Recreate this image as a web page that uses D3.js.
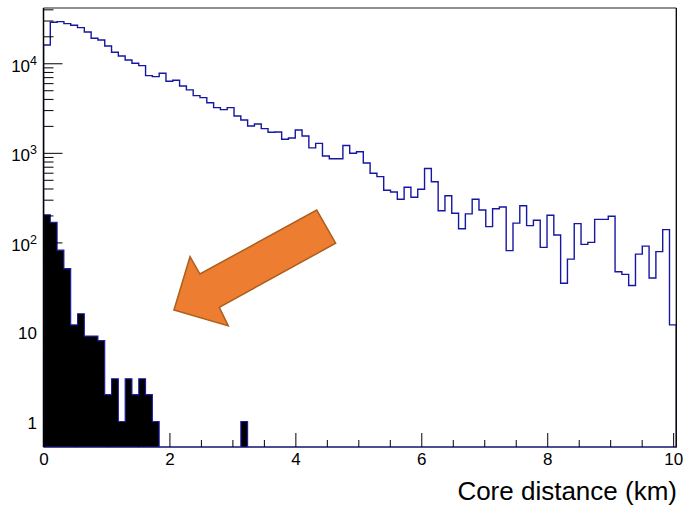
<!DOCTYPE html>
<html>
<head>
<meta charset="utf-8">
<script src="https://cdn.jsdelivr.net/npm/d3@7"></script>
<style>
  html, body { margin: 0; padding: 0; background: #fff; }
  svg { display: block; font-family: "Liberation Sans", Arial, Helvetica, sans-serif; }
</style>
</head>
<body>
<svg id="chart" width="686" height="505"></svg>
<script>
// Histogram binning: equal-width bins over [histMin, histMax]
const histMin = 0;
const histMax = 10.05;

// All reconstructed shower cores (counts per bin)
const allCores = [
  16010, 28700, 29150, 27700, 26580, 25000, 22380, 19030, 18200, 15600,
  13270, 12070, 10890, 10000, 9400, 7270, 7090, 7740, 6300, 6460,
  5580, 5040, 4350, 4130, 3630, 3200, 3040, 3200, 2580, 2329,
  1995, 2101, 1862, 1698, 1711, 1418, 1467, 1801, 1544, 1135,
  1274, 923, 859, 859, 1209, 990, 1028, 771, 592, 542,
  382, 366, 303, 413, 319, 392, 669, 476, 226, 332,
  212, 142, 208, 303, 230, 150, 238, 249, 81, 164,
  257, 154, 177, 88, 201, 121, 35, 65, 162, 95,
  100, 181, 181, 196, 47, 44, 33, 74, 91, 40,
  79, 139, 12
];

// Selected events (counts per bin)
const selected = [
  203, 168, 82, 51, 12, 16, 9, 9, 8, 2,
  3, 1, 3, 2, 3, 2, 1, 0, 0, 0,
  0, 0, 0, 0, 0, 0, 0, 0, 0, 1,
  0, 0, 0, 0, 0, 0, 0, 0, 0, 0,
  0, 0, 0, 0, 0, 0, 0, 0, 0, 0,
  0, 0, 0, 0, 0, 0, 0, 0, 0, 0,
  0, 0, 0, 0, 0, 0, 0, 0, 0, 0,
  0, 0, 0, 0, 0, 0, 0, 0, 0, 0,
  0, 0, 0, 0, 0, 0, 0, 0, 0, 0,
  0, 0, 0
];

// Axis ticks and labels
const xMajorTicks = [0, 2, 4, 6, 8, 10];
const xTickLabels = ["0", "2", "4", "6", "8", "10"];
const yMajorTicks = [1, 10, 100, 1000, 10000];
const yTickLabels = [["1", ""], ["10", ""], ["10", "2"], ["10", "3"], ["10", "4"]];
const xTitle = "Core distance (km)";

// Arrow annotation outline, in (km, count) coordinates
const arrowOutline = [
  [2.072, 17.6], [2.327, 69.3], [2.485, 44.4], [4.339, 230],
  [4.640, 97.9], [2.792, 18.9], [2.935, 11.7]
];

const svg = d3.select("#chart");
const plot = { left: 43.5, right: 676.3, top: 8, bottom: 447 };

const x = d3.scaleLinear().domain([histMin, histMax]).range([plot.left, plot.right]);
const y = d3.scaleLog().domain([0.52, 41400]).range([plot.bottom, plot.top]);

const nBins = allCores.length;
const binW = (histMax - histMin) / nBins;
const edges = d3.range(nBins + 1).map(i => histMin + i * binW);

svg.append("clipPath").attr("id", "plotClip")
  .append("rect")
  .attr("x", plot.left).attr("y", plot.top)
  .attr("width", plot.right - plot.left).attr("height", plot.bottom - plot.top + 1);

// Step outline of a histogram; empty bins sit on the bottom of the frame
function stepPoints(values) {
  const pts = [[edges[0], 0]];
  values.forEach((v, i) => pts.push([edges[i], v]));
  pts.push([edges[nBins], 0]);
  return pts;
}
const stepLine = d3.line()
  .x(d => x(d[0]))
  .y(d => d[1] > 0 ? y(d[1]) : plot.bottom)
  .curve(d3.curveStepAfter);

// Bottom axis line (underneath the histogram outlines)
svg.append("line").attr("x1", plot.left).attr("x2", plot.right)
  .attr("y1", plot.bottom).attr("y2", plot.bottom)
  .attr("stroke", "#000").attr("stroke-width", 1);

const histG = svg.append("g").attr("clip-path", "url(#plotClip)");

// Selected events: filled black with blue outline
histG.append("path")
  .attr("d", stepLine(stepPoints(selected)) + "Z")
  .attr("fill", "#000")
  .attr("stroke", "#1c1ca8")
  .attr("stroke-width", 1.1);

// All cores: open blue outline
histG.append("path")
  .attr("d", stepLine(stepPoints(allCores)))
  .attr("fill", "none")
  .attr("stroke", "#1616a2")
  .attr("stroke-width", 1.4);

// Top and right frame lines
svg.append("line").attr("x1", plot.left).attr("x2", plot.right)
  .attr("y1", plot.top).attr("y2", plot.top)
  .attr("stroke", "#6a6a6a").attr("stroke-width", 1.3);
svg.append("line").attr("x1", plot.right).attr("x2", plot.right)
  .attr("y1", plot.top).attr("y2", plot.bottom + 0.5)
  .attr("stroke", "#000").attr("stroke-width", 1.3);

// X axis (ticks point into the frame)
const xMinorTicks = d3.range(0, 10.01, 0.5).filter(t => !xMajorTicks.includes(t));
svg.append("g")
  .attr("transform", `translate(0,${plot.bottom})`)
  .call(d3.axisBottom(x).tickValues(xMinorTicks).tickSize(-7).tickFormat(""))
  .call(g => g.select(".domain").remove());
svg.append("g")
  .attr("transform", `translate(0,${plot.bottom})`)
  .call(d3.axisBottom(x).tickValues(xMajorTicks).tickSize(-14).tickPadding(6)
    .tickFormat((d, i) => xTickLabels[i]))
  .call(g => g.select(".domain").remove())
  .call(g => g.selectAll("text").attr("font-size", 17).attr("fill", "#000")
    .style("font-family", "'Liberation Sans', Arial, sans-serif"));

// Y axis: log decades with minor ticks at 2..9
const yMinorTicks = [];
[0.1, 1, 10, 100, 1000, 10000].forEach(dec => {
  for (let k = 2; k <= 9; k++) {
    const t = dec * k;
    if (t >= 0.52 && t <= 41400) yMinorTicks.push(t);
  }
});
svg.append("g")
  .attr("transform", `translate(${plot.left},0)`)
  .call(d3.axisLeft(y).tickValues(yMinorTicks).tickSize(-10).tickFormat(""))
  .call(g => g.select(".domain").remove());
const yAxisG = svg.append("g")
  .attr("transform", `translate(${plot.left},0)`)
  .call(d3.axisLeft(y).tickValues(yMajorTicks).tickSize(-19).tickPadding(6.5).tickFormat(""))
  .call(g => g.select(".domain").remove());
yAxisG.selectAll(".tick").each(function (d, i) {
  const [base, expo] = yTickLabels[i];
  const t = d3.select(this).select("text")
    .attr("font-size", 17).attr("fill", "#000")
    .style("font-family", "'Liberation Sans', Arial, sans-serif")
    .attr("dy", expo ? "0.47em" : "0.38em");
  t.text(null);
  t.append("tspan").text(base);
  if (expo) t.append("tspan").attr("font-size", 12.5).attr("dy", "-0.55em").text(expo);
});

// Left axis line on top of the filled histogram edge
svg.append("line").attr("x1", plot.left).attr("x2", plot.left)
  .attr("y1", plot.top).attr("y2", plot.bottom)
  .attr("stroke", "#000").attr("stroke-width", 1.5);

// Axis title
svg.append("text")
  .attr("x", 677).attr("y", 499.5)
  .attr("text-anchor", "end")
  .attr("font-size", 26)
  .attr("fill", "#000")
  .text(xTitle);

// Arrow annotation
svg.append("path")
  .attr("d", d3.line().x(d => x(d[0])).y(d => y(d[1]))(arrowOutline) + "Z")
  .attr("fill", "#ED7D31")
  .attr("stroke", "#AC5E1E")
  .attr("stroke-width", 1.5)
  .attr("stroke-linejoin", "miter");
</script>
</body>
</html>
